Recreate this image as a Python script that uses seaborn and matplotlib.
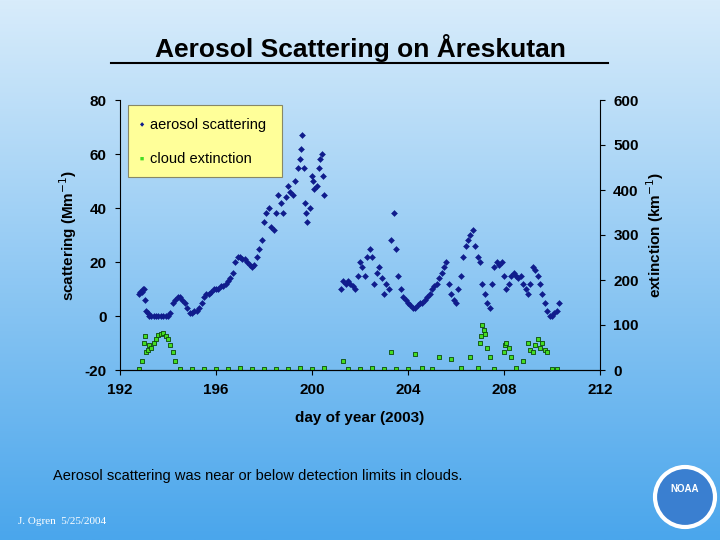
import numpy as np
import matplotlib
matplotlib.use("Agg")
import matplotlib.pyplot as plt
import seaborn as sns
from matplotlib.colors import LinearSegmentedColormap
from matplotlib.patches import Rectangle, Ellipse

aer_day = [192.8,192.85,192.9,192.95,193.0,193.05,193.1,193.15,193.2,193.3,
           193.4,193.5,193.6,193.7,193.8,193.9,194.0,194.1,194.2,194.3,
           194.4,194.5,194.6,194.7,194.8,194.9,195.0,195.1,195.2,195.3,
           195.4,195.5,195.6,195.7,195.8,195.9,196.0,196.1,196.2,196.3,
           196.4,196.5,196.6,196.7,196.8,196.9,197.0,197.1,197.2,197.3,
           197.4,197.5,197.6,197.7,197.8,197.9,198.0,198.1,198.2,198.3,
           198.4,198.5,198.6,198.7,198.8,198.9,199.0,199.1,199.2,199.3,
           199.4,199.5,199.55,199.6,199.65,199.7,199.75,199.8,199.9,200.0,
           200.05,200.1,200.2,200.3,200.35,200.4,200.45,200.5,
           201.2,201.3,201.4,201.5,201.6,201.7,201.8,201.9,202.0,202.1,
           202.2,202.3,202.4,202.5,202.6,202.7,202.8,202.9,203.0,203.1,
           203.2,203.3,203.4,203.5,203.6,203.7,203.8,203.9,204.0,204.1,
           204.2,204.3,204.4,204.5,204.6,204.7,204.8,204.9,205.0,205.1,
           205.2,205.3,205.4,205.5,205.6,205.7,205.8,205.9,206.0,206.1,
           206.2,206.3,206.4,206.5,206.6,206.7,206.8,206.9,207.0,207.1,
           207.2,207.3,207.4,207.5,207.6,207.7,207.8,207.9,208.0,208.1,
           208.2,208.3,208.4,208.5,208.6,208.7,208.8,208.9,209.0,209.1,
           209.2,209.3,209.4,209.5,209.6,209.7,209.8,209.9,210.0,210.1,
           210.2,210.3]
aer_val = [8,9,9,10,10,6,2,1,0,0,
           0,0,0,0,0,0,0,1,5,6,
           7,7,6,5,3,1,1,2,2,3,
           5,7,8,8,9,10,10,10,11,11,
           12,13,14,16,20,22,22,21,21,20,
           19,18,19,22,25,28,35,38,40,33,
           32,38,45,42,38,44,48,46,45,50,
           55,58,62,67,55,42,38,35,40,52,
           50,47,48,55,58,60,52,45,
           10,13,12,13,12,11,10,15,20,18,
           15,22,25,22,12,16,18,14,8,12,
           10,28,38,25,15,10,7,6,5,4,
           3,3,4,5,5,6,7,8,10,11,
           12,14,16,18,20,12,8,6,5,10,
           15,22,26,28,30,32,26,22,20,12,
           8,5,3,12,18,20,19,20,15,10,
           12,15,16,15,14,15,12,10,8,12,
           18,17,15,12,8,5,2,0,0,1,
           2,5]

cld_day = [192.8,192.9,193.0,193.05,193.1,193.15,193.2,193.3,193.4,193.5,193.6,193.7,193.8,193.9,194.0,194.1,194.2,194.3,194.5,195.0,195.5,196.0,196.5,197.0,197.5,198.0,198.5,199.0,199.5,200.0,200.5,201.3,201.5,202.0,202.5,203.0,203.3,203.5,204.0,204.3,204.6,205.0,205.3,205.8,206.2,206.6,206.9,207.0,207.05,207.1,207.15,207.2,207.3,207.4,207.6,208.0,208.05,208.1,208.2,208.3,208.5,208.8,209.0,209.1,209.2,209.3,209.4,209.5,209.6,209.7,209.8,210.0,210.2]
cld_val = [3,20,60,75,40,45,55,50,60,70,78,80,82,75,70,55,40,20,3,3,3,3,3,4,3,3,3,3,4,3,4,20,3,3,5,3,40,3,3,35,5,3,30,25,5,30,5,60,75,100,90,80,50,30,3,40,55,60,50,30,5,20,60,45,40,55,70,50,60,45,40,3,3]

plt.rcParams['axes.unicode_minus'] = False
fig = plt.figure(figsize=(7.2,5.4), dpi=100)
bg = fig.add_axes([0,0,1,1], zorder=-10)
grad = np.linspace(0,1,256).reshape(-1,1)
cm = LinearSegmentedColormap.from_list("b", ["#d8ecfb", "#4aa6ec"])
bg.imshow(grad, aspect="auto", cmap=cm, extent=[0,1,0,1], origin="upper")
bg.axis("off")

plt.rcParams['font.family'] = ['Liberation Sans', 'DejaVu Sans']
ax = fig.add_axes([120/720, 1-370/540, 480/720, 270/540])
ax.patch.set_alpha(0)
sns.scatterplot(x=aer_day, y=aer_val, ax=ax, marker="D", s=9, color="#101c8c", edgecolor="#101c8c", linewidth=0.4)
ax.set_xlim(192,212); ax.set_ylim(-20,80)
ax.set_xticks(range(192,213,4)); ax.set_yticks(range(-20,81,20))
ax.tick_params(labelsize=11, direction="out", pad=6)
for l in ax.get_xticklabels()+ax.get_yticklabels(): l.set_fontweight("bold")
ax.set_xlabel("day of year (2003)", fontsize=11, fontweight="bold", labelpad=10)
ax.set_ylabel("scattering (Mm$^{-1}$)", fontsize=11, fontweight="bold")
ax2 = ax.twinx()
sns.scatterplot(x=cld_day, y=cld_val, ax=ax2, marker="s", s=12, color="#44dd22", edgecolor="#0b4a0b", linewidth=0.6)
ax2.set_ylim(0,600); ax2.set_yticks(range(0,601,100))
ax2.tick_params(labelsize=11, direction="out", pad=6)
for l in ax2.get_yticklabels(): l.set_fontweight("bold")
ax2.set_ylabel("extinction (km$^{-1}$)", fontsize=11, fontweight="bold")
for a in (ax, ax2):
    for s in a.spines.values(): s.set_visible(False)
    a.spines['bottom'].set_visible(True)
ax.spines['left'].set_visible(True); ax2.spines['right'].set_visible(True)

fig.patches.append(Rectangle((128/720, 1-177/540), 154/720, 72/540, transform=fig.transFigure, facecolor="#ffff99", edgecolor="#888866", lw=0.8))
fig.text(140/720, 1-125/540, "◆", fontsize=4, color="#101c8c", va="center")
fig.text(150/720, 1-125/540, "aerosol scattering", fontsize=10.5, va="center")
fig.text(140/720, 1-159/540, "■", fontsize=5, color="#44dd22", va="center")
fig.text(150/720, 1-159/540, "cloud extinction", fontsize=10.5, va="center")

fig.text(0.5, 1-48/540, "Aerosol Scattering on Åreskutan", ha="center", va="center", fontsize=19, fontweight="bold")
fig.add_artist(plt.Line2D([111/720, 608/720], [1-63/540]*2, color="black", lw=1.5))
fig.text(53/720, 1-480/540, "Aerosol scattering was near or below detection limits in clouds.", fontsize=10.5)
fig.text(18/720, 1-524/540, "J. Ogren  5/25/2004", fontsize=8, color="white", family="Liberation Serif")
fig.patches.append(Ellipse((685/720, 1-497/540), 60/720, 60/540, transform=fig.transFigure, facecolor="#3a7fd0", edgecolor="white", lw=3))
fig.text(685/720, 1-492/540, "NOAA", ha="center", fontsize=7, color="white", fontweight="bold")
fig.savefig("out.png", dpi=100)
